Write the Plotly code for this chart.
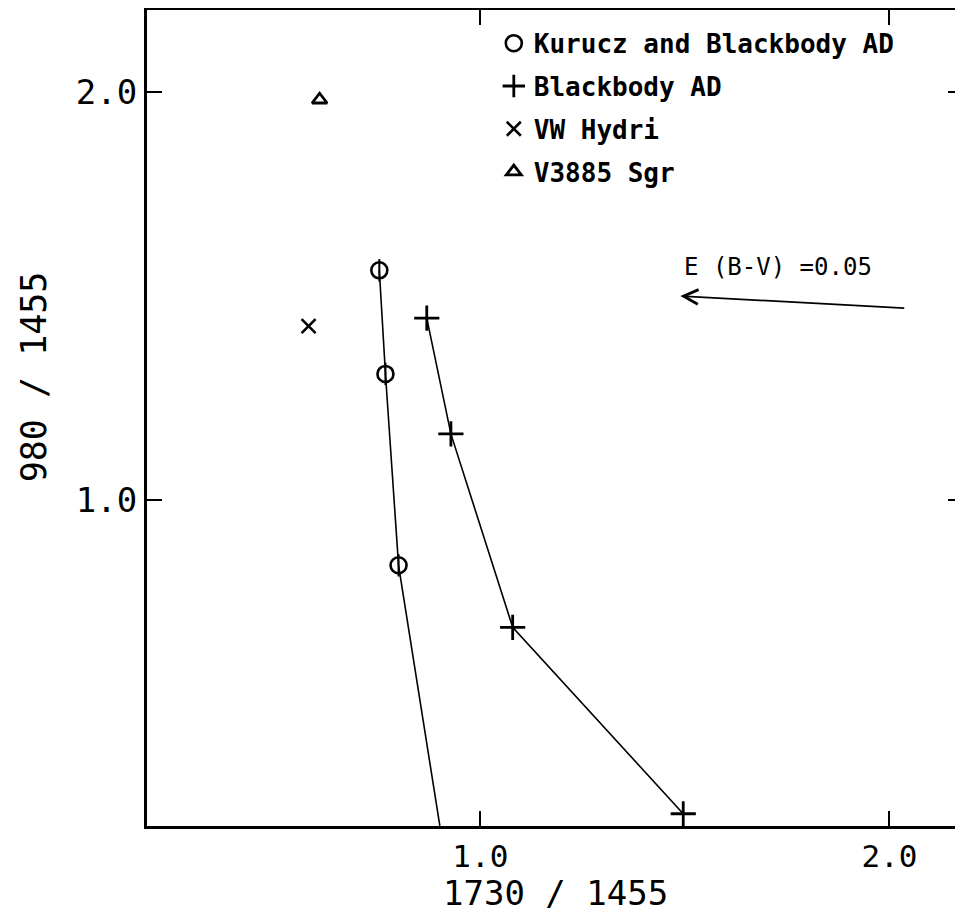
import plotly.graph_objects as go

# ---- data ----
kurucz_x = [0.753, 0.768, 0.800]
kurucz_y = [1.562, 1.308, 0.839]
kurucz_line_x = [0.753, 0.768, 0.800, 0.901]   # line continues to the lower frame
kurucz_line_y = [1.562, 1.308, 0.839, 0.200]

bb_x = [0.869, 0.928, 1.079, 1.496]
bb_y = [1.445, 1.161, 0.687, 0.230]

vwhyi_x = [0.580]
vwhyi_y = [1.425]

v3885_x = [0.607]
v3885_y = [1.980]

# reddening vector E(B-V)=0.05 : tail -> head
redvec_tail = (2.040, 1.469)
redvec_head = (1.489, 1.499)
redvec_label = "E (B-V) =0.05"

x_ticks = [1.0, 2.0]
x_ticklabels = ["1.0", "2.0"]
y_ticks = [1.0, 2.0]
y_ticklabels = ["1.0", "2.0"]

MONO = "DejaVu Sans Mono"

fig = go.Figure()

# connecting lines
fig.add_trace(go.Scatter(x=kurucz_line_x, y=kurucz_line_y, mode="lines",
                         line=dict(color="black", width=1.6), showlegend=False,
                         hoverinfo="skip"))
fig.add_trace(go.Scatter(x=bb_x, y=bb_y, mode="lines",
                         line=dict(color="black", width=1.6), showlegend=False,
                         hoverinfo="skip"))

# markers (legend entries)
fig.add_trace(go.Scatter(x=kurucz_x, y=kurucz_y, mode="markers", legendgroup="a",
                         name="<b>Kurucz and Blackbody AD</b>",
                         marker=dict(symbol="circle-open", size=16, color="black",
                                     line=dict(width=2.6, color="black"))))
fig.add_trace(go.Scatter(x=kurucz_x, y=kurucz_y, mode="markers", showlegend=False,
                         marker=dict(symbol="line-ns-open", size=16, color="black",
                                     line=dict(width=2, color="black"))))
fig.add_trace(go.Scatter(x=bb_x, y=bb_y, mode="markers", legendgroup="b",
                         name="<b>Blackbody AD</b>",
                         marker=dict(symbol="cross-thin-open", size=18, color="black",
                                     line=dict(width=2.8, color="black"))))
fig.add_trace(go.Scatter(x=vwhyi_x, y=vwhyi_y, mode="markers", legendgroup="c",
                         name="<b>VW Hydri</b>",
                         marker=dict(symbol="x-thin-open", size=14, color="black",
                                     line=dict(width=2.6, color="black"))))
fig.add_trace(go.Scatter(x=v3885_x, y=v3885_y, mode="markers", legendgroup="d",
                         name="<b>V3885 Sgr</b>",
                         marker=dict(symbol="triangle-up-open", size=13, color="black",
                                     line=dict(width=2.8, color="black"))))

# reddening arrow
fig.add_annotation(x=redvec_head[0], y=redvec_head[1], ax=redvec_tail[0], ay=redvec_tail[1],
                   xref="x", yref="y", axref="x", ayref="y", text="",
                   showarrow=True, arrowhead=5, arrowsize=1.6, arrowwidth=1.8,
                   arrowcolor="black")
fig.add_annotation(x=(redvec_head[0] + redvec_tail[0]) / 2 - 0.037, y=1.570,
                   xref="x", yref="y", text=redvec_label, showarrow=False,
                   font=dict(family=MONO, size=24, color="black"))

# axis titles as annotations
fig.add_annotation(x=0.5, y=-0.082, xref="paper", yref="paper", yanchor="middle",
                   text="1730 / 1455", showarrow=False,
                   font=dict(family=MONO, size=34, color="black"))
fig.add_annotation(x=-0.1386, y=0.551, xref="paper", yref="paper", xanchor="center",
                   yanchor="middle",
                   text="980 / 1455", showarrow=False, textangle=-90,
                   font=dict(family=MONO, size=35, color="black"))

axis_common = dict(showgrid=False, zeroline=False, showline=True, linecolor="black",
                   linewidth=3, mirror="ticks", ticks="inside", ticklen=15,
                   tickwidth=2, tickcolor="black")

fig.update_xaxes(range=[0.185, 2.18], tickvals=x_ticks, ticktext=x_ticklabels,
                 ticklabelstandoff=1, tickfont=dict(family=MONO, size=31, color="black"),
                 **axis_common)
fig.update_yaxes(range=[0.2, 2.2], tickvals=y_ticks, ticktext=y_ticklabels,
                 ticklabelstandoff=0, tickfont=dict(family=MONO, size=34, color="black"),
                 **axis_common)

# the page body adds an 8px offset, so the figure is sized/margined to compensate
fig.update_layout(
    width=955, height=905,
    margin=dict(l=139, r=0, t=2, b=87, autoexpand=False),
    plot_bgcolor="white", paper_bgcolor="white",
    showlegend=True,
    legend=dict(x=0.425, y=0.988, xanchor="left", yanchor="top",
                bgcolor="rgba(0,0,0,0)", borderwidth=0,
                font=dict(family=MONO, size=26, color="black"),
                traceorder="grouped", itemsizing="trace", tracegroupgap=6),
)

fig.write_html("out.html")
